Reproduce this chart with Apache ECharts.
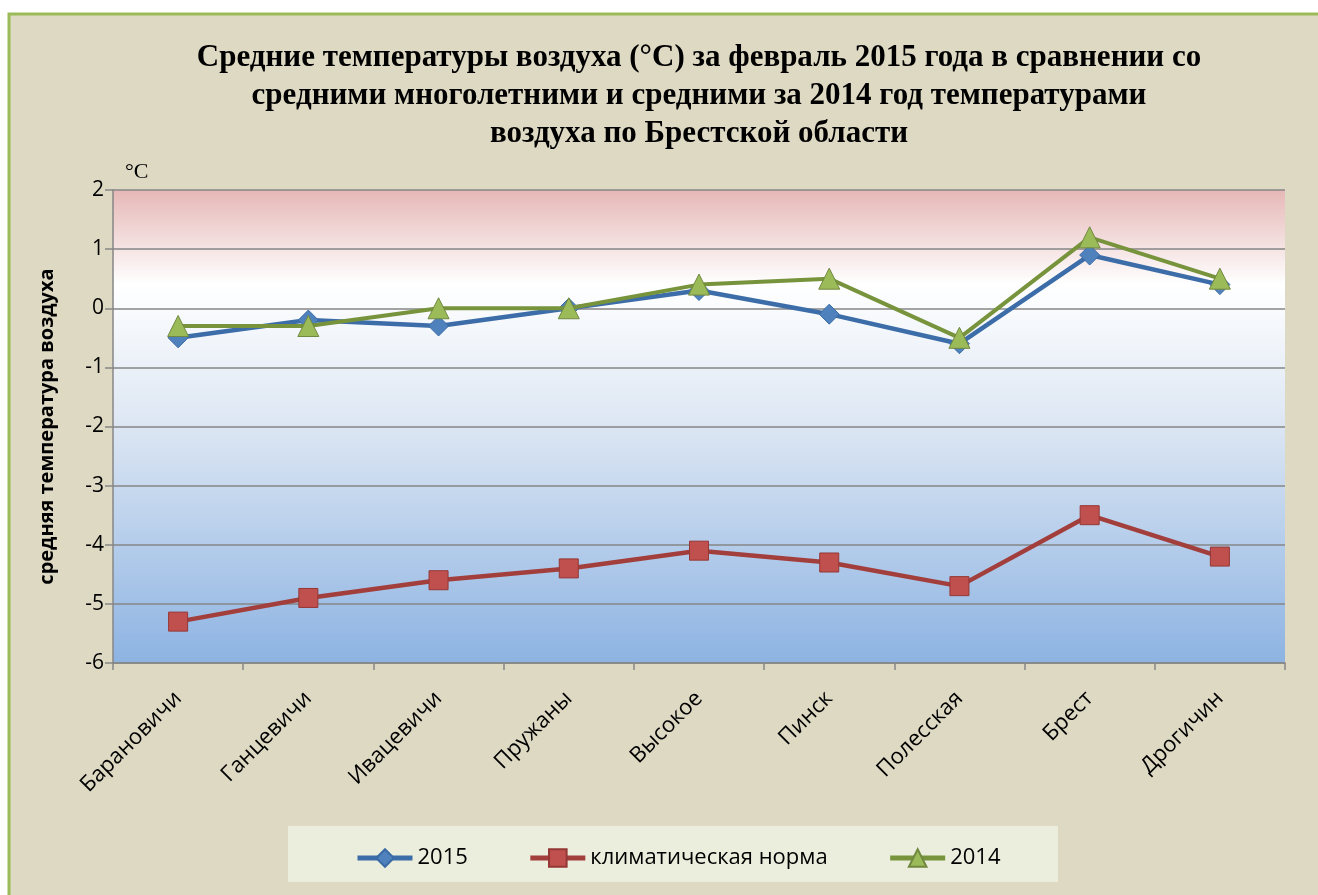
<!DOCTYPE html>
<html>
<head>
<meta charset="utf-8">
<script src="https://cdn.jsdelivr.net/npm/echarts@6/dist/echarts.min.js"></script>
<style>
  html, body { margin: 0; padding: 0; background: #fff; }
  #chart { width: 1318px; height: 895px; }
</style>
</head>
<body>
<div id="chart"></div>
<script>
// станции
let stations = ['Барановичи', 'Ганцевичи', 'Ивацевичи', 'Пружаны', 'Высокое', 'Пинск', 'Полесская', 'Брест', 'Дрогичин'];
// средние температуры, °C
let t2015 = [-0.5, -0.2, -0.3, 0.0, 0.3, -0.1, -0.6, 0.9, 0.4];
let tNorm = [-5.3, -4.9, -4.6, -4.4, -4.1, -4.3, -4.7, -3.5, -4.2];
let t2014 = [-0.3, -0.3, 0.0, 0.0, 0.4, 0.5, -0.5, 1.2, 0.5];
let seriesNames = ['2015', 'климатическая норма', '2014'];

let gridColor = '#868686';
let labelFont = 'Open Sans';

let myChart = echarts.init(document.getElementById('chart'));
let option = {
  backgroundColor: '#ffffff',
  animation: false,
  graphic: [
    {
      type: 'rect', z: -10,
      shape: { x: 9, y: 14, width: 1400, height: 1000 },
      style: { fill: '#DDD9C3', stroke: '#9BBB59', lineWidth: 3 }
    },
    {
      type: 'rect', z: -5,
      shape: { x: 288, y: 826, width: 770, height: 56 },
      style: { fill: '#EBEEDC' }
    },
    {
      type: 'text', left: 125, top: 161,
      style: { text: '°C', font: '22px "Liberation Serif"', fill: '#000' }
    }
  ],
  title: {
    text: 'Средние температуры воздуха (°C) за февраль 2015 года в сравнении со\nсредними многолетними и средними за 2014 год температурами\nвоздуха по Брестской области',
    left: 694,
    textAlign: 'center',
    top: 34,
    textStyle: {
      fontFamily: 'Liberation Serif',
      fontWeight: 'bold',
      fontSize: 31,
      lineHeight: 38,
      color: '#000'
    }
  },
  legend: {
    data: seriesNames,
    left: 350,
    top: 842,
    itemWidth: 55,
    itemHeight: 22,
    itemGap: 60,
    lineStyle: { width: 5 },
    textStyle: { fontFamily: labelFont, fontSize: 22, color: '#000' }
  },
  grid: {
    left: 113,
    right: 33,
    top: 190,
    bottom: 232,
    show: true,
    borderWidth: 0,
    backgroundColor: new echarts.graphic.LinearGradient(0, 0, 0, 1, [
      { offset: 0, color: '#E6B8B7' },
      { offset: 0.12, color: '#F5E2E2' },
      { offset: 0.2, color: '#FFFFFF' },
      { offset: 0.5, color: '#DCE6F3' },
      { offset: 1, color: '#8DB3E2' }
    ])
  },
  xAxis: {
    type: 'category',
    data: stations,
    boundaryGap: true,
    axisLine: { onZero: false, lineStyle: { color: gridColor, width: 1.5 } },
    axisTick: { show: true, length: 7, lineStyle: { color: gridColor, width: 1.5 } },
    axisLabel: {
      rotate: 45,
      interval: 0,
      margin: 32,
      fontFamily: labelFont,
      fontSize: 22,
      color: '#000'
    }
  },
  yAxis: {
    type: 'value',
    min: -6,
    max: 2,
    interval: 1,
    name: 'средняя температура воздуха',
    nameLocation: 'middle',
    nameRotate: 90,
    nameGap: 56,
    nameTextStyle: { fontFamily: labelFont, fontWeight: 'bold', fontSize: 20, color: '#000' },
    axisLine: { show: true, lineStyle: { color: gridColor, width: 1.5 } },
    axisTick: { show: true, length: 8, lineStyle: { color: gridColor, width: 1.5 } },
    splitLine: { lineStyle: { color: gridColor, width: 1.5 } },
    axisLabel: { margin: 9, fontFamily: labelFont, fontSize: 21, color: '#000' }
  },
  series: [
    {
      name: seriesNames[0],
      type: 'line',
      data: t2015,
      symbol: 'diamond',
      symbolSize: 20,
      lineStyle: { color: '#3C6DA8', width: 4.5 },
      itemStyle: { color: '#4F81BD', borderColor: '#3A6AA5', borderWidth: 1 },
      z: 3
    },
    {
      name: seriesNames[1],
      type: 'line',
      data: tNorm,
      symbol: 'rect',
      symbolSize: 19,
      lineStyle: { color: '#A23F3C', width: 4.5 },
      itemStyle: { color: '#C0504D', borderColor: '#953735', borderWidth: 1 },
      z: 2
    },
    {
      name: seriesNames[2],
      type: 'line',
      data: t2014,
      symbol: 'triangle',
      symbolSize: 21,
      lineStyle: { color: '#77933C', width: 4 },
      itemStyle: { color: '#9BBB59', borderColor: '#71893F', borderWidth: 1 },
      z: 4
    }
  ]
};
myChart.setOption(option);
</script>
</body>
</html>
